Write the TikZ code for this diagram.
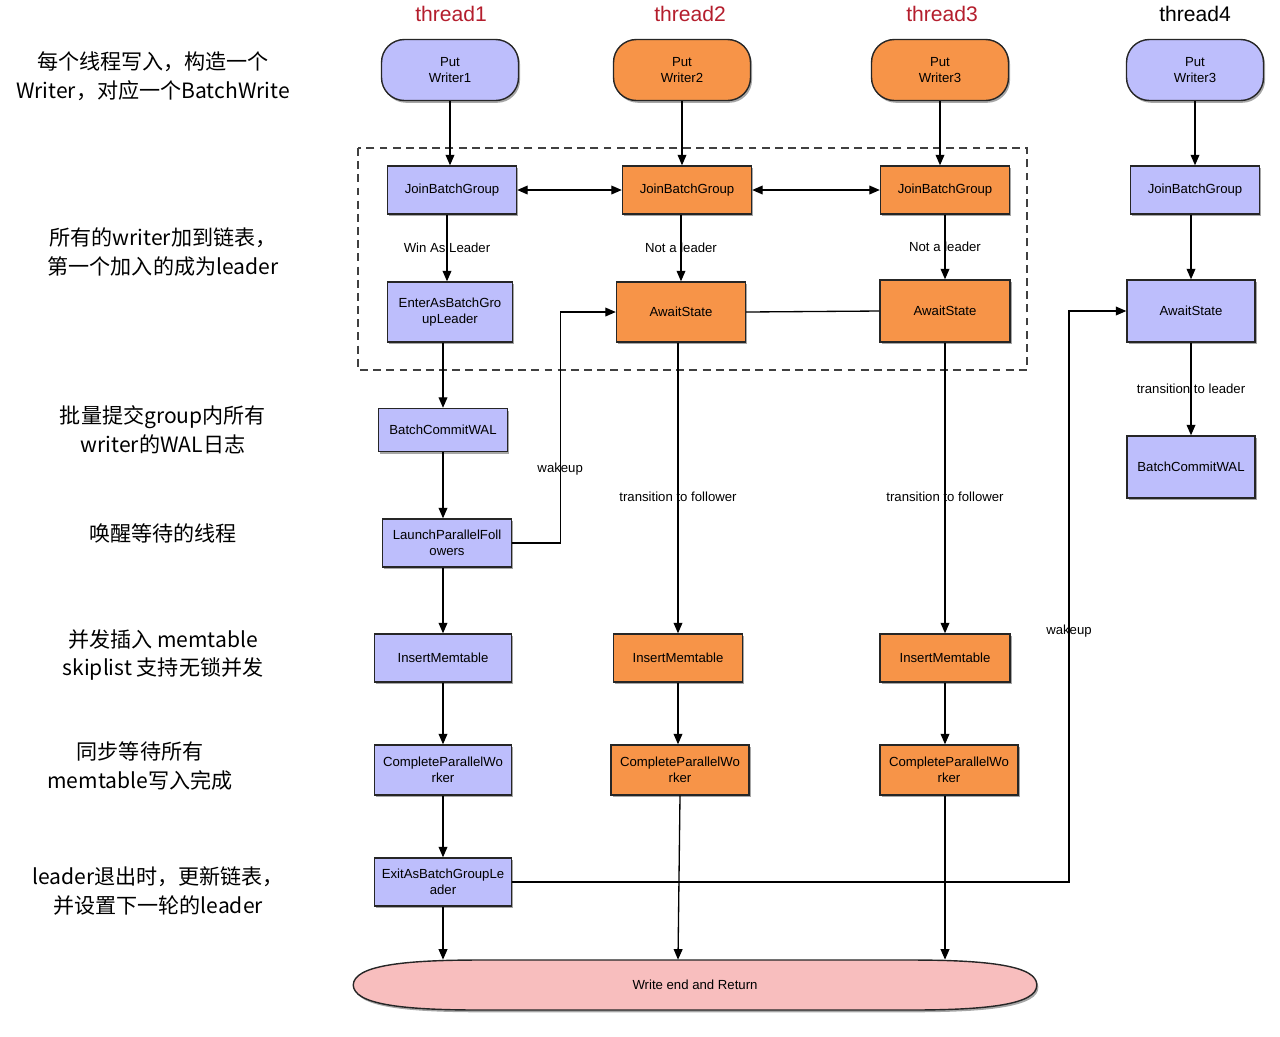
\documentclass[tikz,border=0pt]{standalone}
\usepackage{fontspec}
\setmainfont{Liberation Sans}
\newfontfamily\cjk{Noto Sans CJK SC}
\usetikzlibrary{arrows.meta,shadows}

\definecolor{lav}{RGB}{189,190,252}
\definecolor{org}{RGB}{247,148,72}
\definecolor{pnk}{RGB}{248,190,190}
\definecolor{thr}{RGB}{180,30,45}

\begin{document}
\begin{tikzpicture}[x=0.02cm,y=-0.02cm,
        shade/.style={drop shadow={shadow xshift=0.9pt,shadow yshift=-1.3pt,opacity=0.35,fill=black}},
        box/.style={draw=black!85,line width=0.8pt,align=center,shade,
            minimum width=2.58cm,minimum height=0.96cm,inner sep=1pt,
            font=\fontsize{7.5}{9}\selectfont},
        pill/.style={box,rounded corners=13pt,minimum width=2.74cm,minimum height=1.22cm},
        lv/.style={fill=lav},
        og/.style={fill=org},
        arr/.style={line width=0.75pt,-{Triangle[length=6pt,width=5pt]}},
        lbl/.style={font=\fontsize{7.5}{9}\selectfont,inner sep=0pt},
        side/.style={font=\cjk\fontsize{12}{16.5}\selectfont,align=center},
        thd/.style={font=\fontsize{12}{14}\selectfont,text=thr}]
        \useasboundingbox (0,0) rectangle (1280,1036); % page size

        % thread titles
        \node[thd] (t1) at (451,14) {thread1};
        \node[thd] (t2) at (690,14) {thread2};
        \node[thd] (t3) at (942,14) {thread3};
        \node[thd,text=black] (t4) at (1195,14) {thread4};

        % left notes
        \node[side] (n1) at (153,76) {每个线程写入，构造一个\\Writer，对应一个BatchWrite};
        \node[side] (n2) at (163,252) {所有的writer加到链表，\\第一个加入的成为leader};
        \node[side] (n3) at (163,430) {批量提交group内所有\\writer的WAL日志};
        \node[side] (n4) at (163,533) {唤醒等待的线程};
        \node[side] (n5) at (163,655) {并发插入 memtable\\skiplist 支持无锁并发};
        \node[side] (n6) at (140,766) {同步等待所有\\memtable写入完成};
        \node[side] (n7) at (158,891) {leader退出时，更新链表，\\并设置下一轮的leader};

        % group frame
        \draw[dash pattern=on 4.5pt off 3pt,line width=0.7pt,black!75] (358,148) rectangle (1027,370);

        % writers
        \node[pill,lv] (w1) at (450,70) {Put\\Writer1};
        \node[pill,og] (w2) at (682,70) {Put\\Writer2};
        \node[pill,og] (w3) at (940,70) {Put\\Writer3};
        \node[pill,lv] (w4) at (1195,70) {Put\\Writer3};

        % join
        \node[box,lv] (j1) at (452,190) {JoinBatchGroup};
        \node[box,og] (j2) at (687,190) {JoinBatchGroup};
        \node[box,og] (j3) at (945,190) {JoinBatchGroup};
        \node[box,lv] (j4) at (1195,190) {JoinBatchGroup};

        % leader / await
        \node[box,lv,minimum width=2.5cm,minimum height=1.2cm] (e1) at (450,312) {EnterAsBatchGro\\upLeader};
        \node[box,og,minimum height=1.2cm] (a2) at (681,312) {AwaitState};
        \node[box,og,minimum width=2.6cm,minimum height=1.24cm] (a3) at (945,311) {AwaitState};
        \node[box,lv,minimum width=2.56cm,minimum height=1.24cm] (a4) at (1191,311) {AwaitState};

        % wal
        \node[box,lv,minimum height=0.86cm] (b1) at (443,430) {BatchCommitWAL};
        \node[box,lv,minimum width=2.56cm,minimum height=1.24cm] (b4) at (1191,467) {BatchCommitWAL};
        \node[box,lv] (l1) at (447,543) {LaunchParallelFoll\\owers};

        % memtable
        \node[box,lv,minimum width=2.74cm] (i1) at (443,658) {InsertMemtable};
        \node[box,og] (i2) at (678,658) {InsertMemtable};
        \node[box,og,minimum width=2.6cm] (i3) at (945,658) {InsertMemtable};

        \node[box,lv,minimum width=2.74cm,minimum height=1cm] (c1) at (443,770) {CompleteParallelWo\\rker};
        \node[box,og,minimum width=2.76cm,minimum height=1cm] (c2) at (680,770) {CompleteParallelWo\\rker};
        \node[box,og,minimum width=2.76cm,minimum height=1cm] (c3) at (949,770) {CompleteParallelWo\\rker};

        \node[box,lv,minimum width=2.74cm] (x1) at (443,882) {ExitAsBatchGroupLe\\ader};

        % end
        \node[lbl,minimum width=13.66cm,minimum height=1cm] (fin) at (695,985) {};
        \draw[fill=pnk,draw=black!85,line width=0.8pt,shade] (fin.west)
            .. controls (354,966) and (400,960) .. (480,960) -- (910,960)
            .. controls (990,960) and (1037,966) .. (fin.east)
            .. controls (1037,1004) and (990,1010) .. (910,1010) -- (480,1010)
            .. controls (400,1010) and (354,1004) .. (fin.west);
        \node[lbl] (fint) at (fin) {Write end and Return};

        % arrows
        \draw[arr] (w1) -- (j1.north -| w1); % put
        \draw[arr] (w2) -- (j2.north -| w2);
        \draw[arr] (w3) -- (j3.north -| w3);
        \draw[arr] (w4) -- (j4.north -| w4);

        \draw[line width=0.75pt,{Triangle[length=6pt,width=5pt]}-{Triangle[length=6pt,width=5pt]}] (j1) -- (j2); % link list
        \draw[line width=0.75pt,{Triangle[length=6pt,width=5pt]}-{Triangle[length=6pt,width=5pt]}] (j2) -- (j3);

        \draw[arr] (j1.south -| 447,0) -- node[lbl,midway] {Win As Leader} (e1.north -| 447,0);
        \draw[arr] (j2.south -| a2) -- node[lbl,midway] {Not a leader} (a2.north);
        \draw[arr] (j3.south -| a3) -- node[lbl,midway] {Not a leader} (a3.north);
        \draw[arr] (j4.south -| a4) -- (a4.north);
        \draw[line width=0.75pt] (a2.east) -- (a3.west);

        \draw[arr] (e1.south -| b1) -- (b1.north);
        \draw[arr] (b1.south) -- (l1.north -| b1);
        \draw[arr] (l1.south -| i1) -- (i1.north);
        \draw[arr] (l1.east) -- ++(48,0) |- node[lbl,pos=0.16] {wakeup} (a2.west); % wakeup followers

        \draw[arr] (a2.south -| i2) -- node[lbl,pos=0.53] {transition to follower} (i2.north);
        \draw[arr] (a3.south) -- node[lbl,pos=0.53] {transition to follower} (i3.north);
        \draw[arr] (a4.south) -- node[lbl,midway] {transition to leader} (b4.north);

        \draw[arr] (i1.south) -- (c1.north);
        \draw[arr] (i2.south) -- (c2.north -| i2);
        \draw[arr] (i3.south) -- (c3.north -| i3);
        \draw[arr] (c1.south) -- (x1.north);

        \draw[arr] (x1.south) -- (fin.north -| x1);
        \draw[arr] (c2.south) -- (fin.north -| 678,0);
        \draw[arr] (c3.south -| i3) -- (fin.north -| i3);
        \draw[arr] (x1.east) -- (x1.east -| 1069,0) |- node[lbl,pos=0.22] {wakeup} (a4.west); % next leader
    \end{tikzpicture}
\end{document}
